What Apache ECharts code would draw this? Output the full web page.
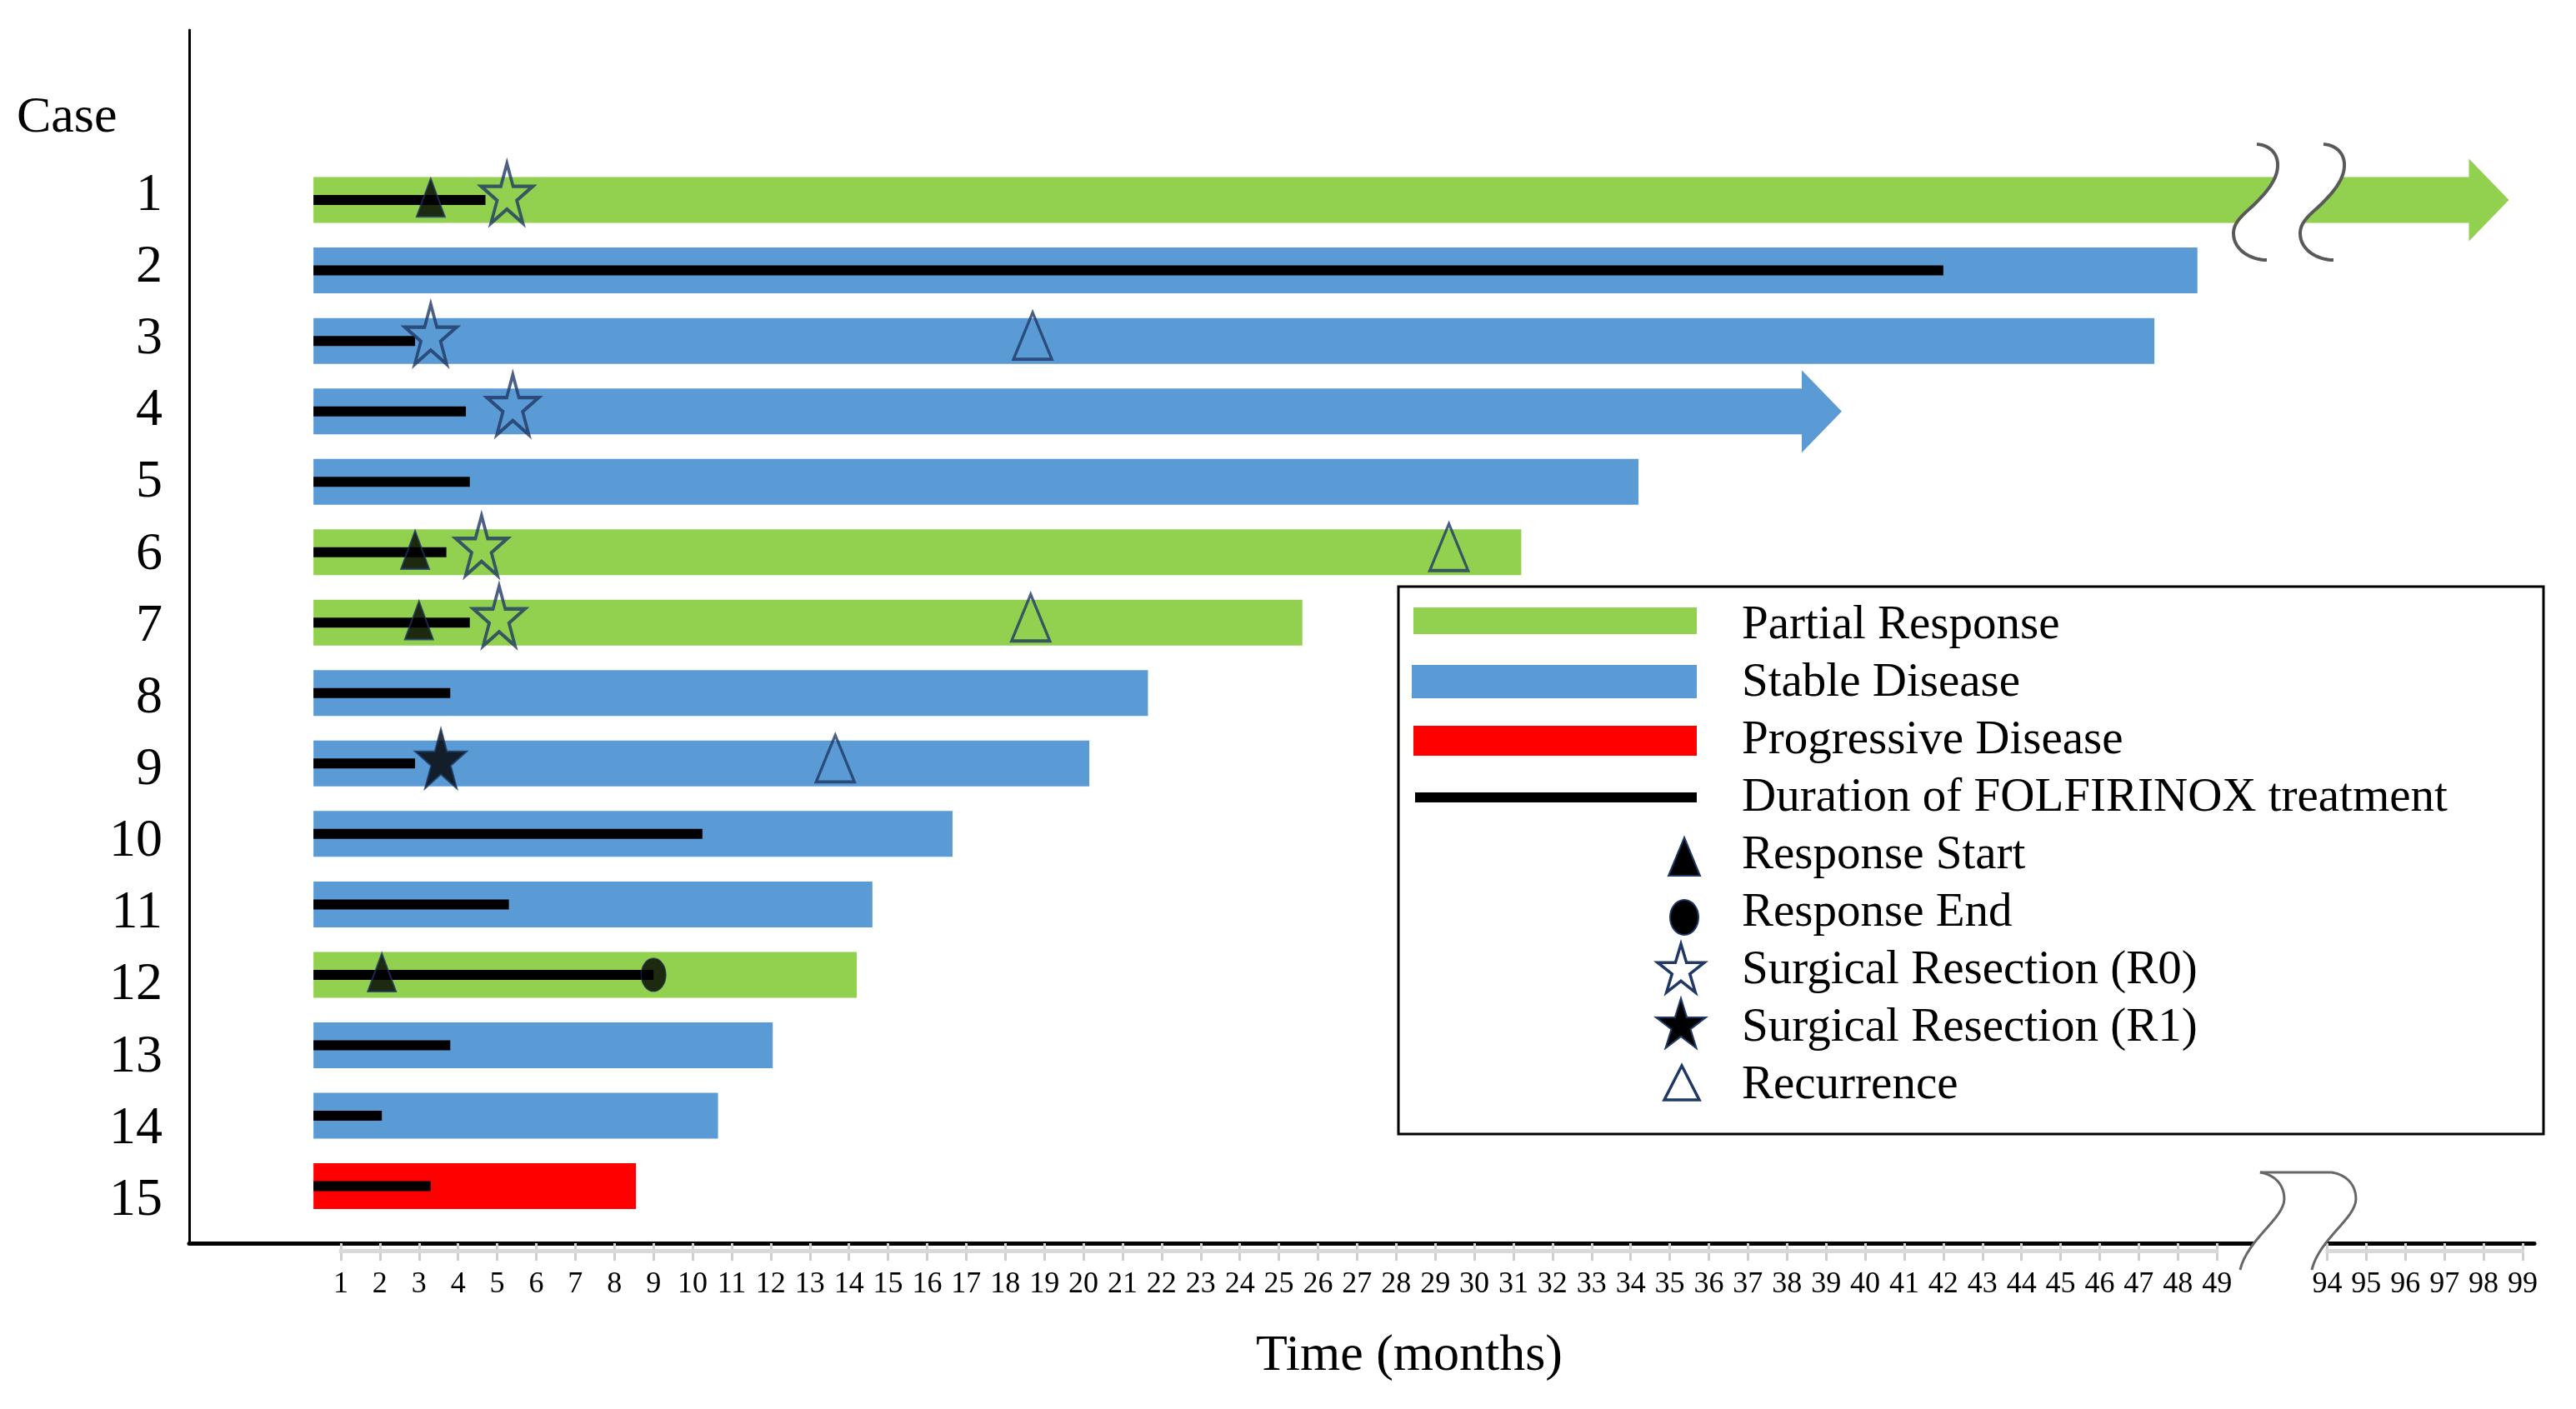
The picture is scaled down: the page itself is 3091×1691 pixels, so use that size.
<!DOCTYPE html>
<html><head><meta charset="utf-8">
<script src="https://cdn.jsdelivr.net/npm/echarts@6/dist/echarts.min.js"></script>
<style>html,body{margin:0;padding:0;background:#fff}#c{width:3091px;height:1691px}</style>
</head><body><div id="c"></div>
<script>
// ---------------- data ----------------
const cases = [1,2,3,4,5,6,7,8,9,10,11,12,13,14,15];
const responseType = ['PR','SD','SD','SD','SD','PR','PR','SD','SD','SD','SD','PR','SD','SD','PD'];
const followUpEnd = [98.65, 48.5, 47.4, 39.4, 34.2, 31.2, 25.6, 21.65, 20.15, 16.65, 14.6, 14.2, 12.05, 10.65, 8.55];
const ongoing = [true,false,false,true,false,false,false,false,false,false,false,false,false,false,false];
const startMonth = 0.3;
const treatmentEnd = [4.7, 42.0, 2.9, 4.2, 4.3, 3.7, 4.3, 3.8, 2.9, 10.25, 5.3, 9.0, 3.8, 2.05, 3.3];
const responseStart = [[3.3,1],[2.9,6],[3.0,7],[2.05,12]];
const responseEnd = [[9.0,12]];
const resectionR0 = [[5.25,1],[3.3,3],[5.4,4],[4.6,6],[5.05,7]];
const resectionR1 = [[3.56,9]];
const recurrence = [[18.7,3],[29.35,6],[18.65,7],[13.65,9]];
const tickMonths = [1,2,3,4,5,6,7,8,9,10,11,12,13,14,15,16,17,18,19,20,21,22,23,24,25,26,27,28,29,30,31,32,33,34,35,36,37,38,39,40,41,42,43,44,45,46,47,48,49,94,95,96,97,98,99];
const axisBreak = {from: 50, to: 92.18};
const legendLabels = ['Partial Response','Stable Disease','Progressive Disease','Duration of FOLFIRINOX treatment','Response Start','Response End','Surgical Resection (R0)','Surgical Resection (R1)','Recurrence'];

// ---------------- styles ----------------
const COLORS = {PR:'#92d050', SD:'#5b9bd5', PD:'#ff0000'};
const NAVY = '#1f3864';
const FONT = '"Liberation Serif","Times New Roman",serif';
const BAR_H = 55, HEAD_L = 47, HEAD_EXTRA = 22, LINE_H = 12;
const STAR = [[100,0],[122.45,69.1],[195.1,69.1],[136.3,111.8],[158.8,180.9],[100,138.2],[41.2,180.9],[63.7,111.8],[4.9,69.1],[77.55,69.1]];
const STAR_PATH = 'path://M' + STAR.map(p=>p.join(',')).join(' L') + ' Z';

const pos = v => v <= axisBreak.from ? v : v - (axisBreak.to - axisBreak.from);
const unpos = p => p <= axisBreak.from + 0.5 ? p : p + (axisBreak.to - axisBreak.from);

function bez(p0,p1,p2,p3,n){const out=[];for(let k=0;k<=n;k++){const t=k/n,u=1-t;out.push([u*u*u*p0[0]+3*u*u*t*p1[0]+3*u*t*t*p2[0]+t*t*t*p3[0],u*u*u*p0[1]+3*u*u*t*p1[1]+3*u*t*t*p2[1]+t*t*t*p3[1]]);}return out;}
function curve(segs,cx,cy,dx){let pts=[];segs.forEach((s,i)=>{const b=bez(...s,16);pts=pts.concat(i?b.slice(1):b);});return pts.map(p=>[cx+p[0]+dx,cy+p[1]]);}
const ROW_CURVE = [
  [[-38,-67],[-22,-66],[-12,-55],[-13,-40]],
  [[-13,-40],[-14,-22],[-30,-5],[-46,10]],
  [[-46,10],[-60,22],[-66,30],[-66,40]],
  [[-66,40],[-66,60],[-45,72],[-26,72]]
];
const AXIS_CURVE = [
  [[-43,-85],[-25,-82],[-14,-70],[-14,-53]],
  [[-14,-53],[-14,-30],[-58,-5],[-67,32]]
];

const chart = echarts.init(document.getElementById('c'));

const barSeries = {
  type:'custom', z:2, silent:true,
  data: cases.map((c,i)=>[pos(startMonth), pos(followUpEnd[i]), c, i]),
  encode:{x:[0,1], y:2},
  renderItem(params, api){
    const i = api.value(3);
    const s = api.coord([api.value(0), api.value(2)]);
    const e = api.coord([api.value(1), api.value(2)]);
    const fill = COLORS[responseType[i]];
    const ch = [];
    if (ongoing[i]) {
      const bx = e[0]-HEAD_L;
      ch.push({type:'rect', shape:{x:s[0], y:s[1]-BAR_H/2, width:bx-s[0], height:BAR_H}, style:{fill}});
      ch.push({type:'polygon', shape:{points:[[bx-1,s[1]-BAR_H/2-HEAD_EXTRA],[e[0],s[1]],[bx-1,s[1]+BAR_H/2+HEAD_EXTRA]]}, style:{fill}});
    } else {
      ch.push({type:'rect', shape:{x:s[0], y:s[1]-BAR_H/2, width:e[0]-s[0], height:BAR_H}, style:{fill}});
    }
    return {type:'group', children:ch};
  }
};

const lineSeries = {
  type:'custom', z:3, silent:true,
  data: cases.map((c,i)=>[pos(startMonth), pos(treatmentEnd[i]), c]),
  encode:{x:[0,1], y:2},
  renderItem(params, api){
    const s = api.coord([api.value(0), api.value(2)]);
    const e = api.coord([api.value(1), api.value(2)]);
    return {type:'rect', shape:{x:s[0], y:s[1]-LINE_H/2, width:e[0]-s[0], height:LINE_H}, style:{fill:'#000'}};
  }
};

function scatter(data, symbol, size, offset, itemStyle){
  return {type:'scatter', z:5, silent:true, data:data.map(([m,c])=>[pos(m),c]), symbol, symbolSize:size, symbolOffset:offset, itemStyle};
}

const decorSeries = {
  type:'custom', z:6, silent:true, clip:false,
  data:[[50.83, 1, 0],[51.02, 15.81, 1]],
  encode:{x:0, y:1},
  renderItem(params, api){
    const c = api.coord([api.value(0), api.value(1)]);
    const ch = [];
    if (api.value(2) === 0) {
      const L = curve(ROW_CURVE, c[0], c[1], 0), R = curve(ROW_CURVE, c[0], c[1], 80);
      ch.push({type:'polygon', shape:{points:L.concat(R.slice().reverse())}, style:{fill:'#fff'}});
      ch.push({type:'polyline', shape:{points:L}, style:{stroke:'#595959', lineWidth:4, fill:'none'}});
      ch.push({type:'polyline', shape:{points:R}, style:{stroke:'#595959', lineWidth:4, fill:'none'}});
    } else {
      const L = curve(AXIS_CURVE, c[0], c[1], 0), R = curve(AXIS_CURVE, c[0], c[1], 86);
      ch.push({type:'polygon', shape:{points:L.concat(R.slice().reverse())}, style:{fill:'#fff'}});
      ch.push({type:'polyline', shape:{points:L}, style:{stroke:'#666', lineWidth:3, fill:'none'}});
      ch.push({type:'polyline', shape:{points:R}, style:{stroke:'#666', lineWidth:3, fill:'none'}});
      ch.push({type:'line', shape:{x1:L[0][0], y1:L[0][1], x2:R[0][0], y2:R[0][1]}, style:{stroke:'#666', lineWidth:3}});
    }
    return {type:'group', children:ch};
  }
};

const bandSeries = {
  type:'custom', z:1, silent:true, clip:false,
  data:[[pos(1), pos(49), 15.81],[pos(94), pos(99), 15.81]],
  encode:{x:[0,1], y:2},
  renderItem(params, api){
    const s = api.coord([api.value(0), api.value(2)]);
    const e = api.coord([api.value(1), api.value(2)]);
    return {type:'rect', shape:{x:s[0]-2, y:s[1]+7, width:e[0]-s[0]+4, height:5}, style:{fill:'#d9d9d9'}};
  }
};

// ---------------- legend (graphic) ----------------
const LX = 2090, LY0 = 751, LDY = 69;
function starPts(cx, cy, w, h){return STAR.map(([x,y])=>[cx-w/2+(x-4.9)/190.2*w, cy-h/2+y/180.9*h]);}
const legend = [
  {type:'rect', shape:{x:1678, y:704, width:1374, height:657}, style:{fill:'#fff', stroke:'#000', lineWidth:3}, z:10},
  {type:'rect', shape:{x:1696, y:729, width:340, height:32}, style:{fill:COLORS.PR}, z:11},
  {type:'rect', shape:{x:1694, y:798, width:342, height:40}, style:{fill:COLORS.SD}, z:11},
  {type:'rect', shape:{x:1696, y:871, width:340, height:36}, style:{fill:COLORS.PD}, z:11},
  {type:'rect', shape:{x:1698, y:951, width:338, height:12}, style:{fill:'#000'}, z:11},
  {type:'polygon', shape:{points:[[2021,1005],[2040,1051],[2002,1051]]}, style:{fill:'#000', stroke:NAVY, lineWidth:2}, z:11},
  {type:'ellipse', shape:{cx:2021, cy:1101, rx:17, ry:21}, style:{fill:'#000', stroke:NAVY, lineWidth:2}, z:11},
  {type:'polygon', shape:{points:starPts(2017, 1162, 56, 58)}, style:{fill:'none', stroke:NAVY, lineWidth:3.5}, z:11},
  {type:'polygon', shape:{points:starPts(2017, 1228, 60, 60)}, style:{fill:'#000', stroke:NAVY, lineWidth:2}, z:11},
  {type:'polygon', shape:{points:[[2018,1279],[2039,1320],[1997,1320]]}, style:{fill:'none', stroke:NAVY, lineWidth:3.5}, z:11}
];
legendLabels.forEach((t,k)=>legend.push({type:'text', x:LX, y:LY0+k*LDY, z:11, style:{text:t, font:'57px '+FONT, fill:'#000', verticalAlign:'middle'}}));
legend.push({type:'text', x:20, y:142, z:11, style:{text:'Case', font:'62px '+FONT, fill:'#000', verticalAlign:'middle'}});
legend.push({type:'text', x:1691, y:1628, z:11, style:{text:'Time (months)', font:'62px '+FONT, fill:'#000', align:'center', verticalAlign:'middle'}});

const tickPos = tickMonths.map(pos);

chart.setOption({
  animation:false,
  backgroundColor:'#fff',
  grid:{left:227, right:50, top:36, bottom:199},
  xAxis:{
    type:'value', min:-2.88, max:57.12,
    axisLine:{show:true, onZero:false, lineStyle:{color:'#000', width:5}},
    splitLine:{show:false},
    axisTick:{show:true, customValues:tickPos, length:21, lineStyle:{color:'#cfcfcf', width:3}},
    axisLabel:{customValues:tickPos, formatter:v=>String(Math.round(unpos(v))), fontFamily:FONT, fontSize:36, color:'#000', margin:32}
  },
  yAxis:[{
    type:'value', inverse:true, min:-1.414, max:15.81, position:'left',
    axisLine:{show:true, onZero:false, lineStyle:{color:'#000', width:3}},
    axisTick:{show:false}, splitLine:{show:false}, axisLabel:{show:false}
  },{
    type:'value', inverse:true, min:-1.31, max:15.592, position:'left', offset:0,
    axisLine:{show:false}, axisTick:{show:false}, splitLine:{show:false},
    axisLabel:{customValues:cases, formatter:v=>String(v), fontFamily:FONT, fontSize:64, color:'#000', margin:32}
  }],
  series:[
    bandSeries, barSeries, lineSeries,
    scatter(responseStart, 'triangle', [34,46], [0,-3], {color:'#000', borderColor:NAVY, borderWidth:2}),
    scatter(responseEnd, 'circle', [30,40], [0,0], {color:'#000', borderColor:NAVY, borderWidth:1}),
    scatter(resectionR0, STAR_PATH, [62,72], [0,-8], {color:'rgba(0,0,0,0)', borderColor:NAVY, borderWidth:4}),
    scatter(resectionR1, STAR_PATH, [62,72], [0,-6], {color:'#000', borderColor:NAVY, borderWidth:2}),
    scatter(recurrence, 'triangle', [46,56], [0,-6], {color:'rgba(0,0,0,0)', borderColor:NAVY, borderWidth:3.5}),
    decorSeries
  ],
  graphic: legend
});
</script>
</body></html>
